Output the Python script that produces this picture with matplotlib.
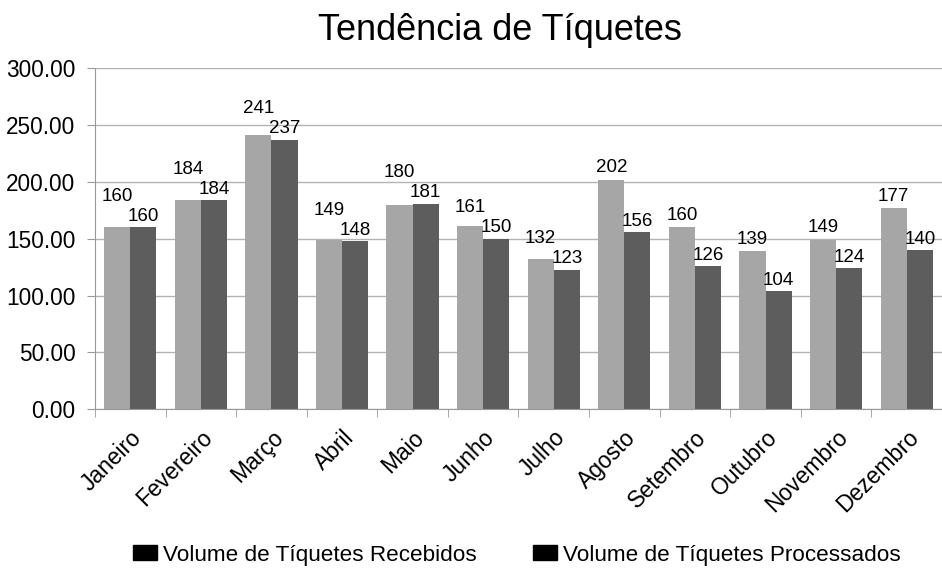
import numpy as np
import matplotlib.pyplot as plt
from matplotlib.patches import Patch
from matplotlib.ticker import FormatStrFormatter

plt.rcParams['font.family'] = ['Liberation Sans', 'DejaVu Sans']

meses = ['Janeiro', 'Fevereiro', 'Março', 'Abril', 'Maio', 'Junho', 'Julho',
         'Agosto', 'Setembro', 'Outubro', 'Novembro', 'Dezembro']
recebidos = [160, 184, 241, 149, 180, 161, 132, 202, 160, 139, 149, 177]
processados = [160, 184, 237, 148, 181, 150, 123, 156, 126, 104, 124, 140]

fig = plt.figure(figsize=(9.42, 5.7), dpi=100)
ax = fig.add_axes([0.1008, 0.2819, 0.8992, 0.5982])

x = np.arange(len(meses))
w = 0.37
b1 = ax.bar(x - w / 2, recebidos, w, color='#a6a6a6')
b2 = ax.bar(x + w / 2, processados, w, color='#5d5d5d')

# rótulos: o rótulo claro sobe quando colidiria com o escuro
for r1, r2 in zip(b1, b2):
    h1, h2 = r1.get_height(), r2.get_height()
    c1 = r1.get_x() + r1.get_width() / 2
    c2 = r2.get_x() + r2.get_width() / 2
    ax.annotate(f'{int(h2)}', (c2, h2), xytext=(0, 11), textcoords='offset pixels',
                ha='center', va='center', fontsize=13.5)
    if abs(h1 - h2) < 14:
        ax.annotate(f'{int(h1)}', (c1, h2), xytext=(0, 31),
                    textcoords='offset pixels', ha='center', va='center', fontsize=13.5)
    else:
        ax.annotate(f'{int(h1)}', (c1, h1), xytext=(0, 12), textcoords='offset pixels',
                    ha='center', va='center', fontsize=13.5)

ax.set_xlim(-0.5, len(meses) - 0.5)
ax.set_ylim(0, 300)
ax.set_yticks(np.arange(0, 301, 50))
ax.yaxis.set_major_formatter(FormatStrFormatter('%.2f'))
ax.yaxis.grid(True, color='#b3b3b3', linewidth=1)
ax.set_axisbelow(True)

ax.set_xticks(x)
ax.set_xticklabels(meses, rotation=45, ha='right', rotation_mode='anchor', fontsize=16.5)
ax.set_xticks(np.arange(-0.5, len(meses), 1), minor=True)
ax.tick_params(axis='x', which='major', length=0, pad=12)
ax.tick_params(axis='x', which='minor', length=6, color='#999999')
ax.tick_params(axis='y', length=6, color='#999999', labelsize=16.3, pad=8)

for s in ('top', 'right'):
    ax.spines[s].set_visible(False)
for s in ('left', 'bottom'):
    ax.spines[s].set_color('#999999')

fig.text(0.531, 0.947, 'Tendência de Tíquetes', fontsize=26, ha='center', va='center')

handles = [Patch(color='black'), Patch(color='black')]
fig.legend(handles, ['Volume de Tíquetes Recebidos', 'Volume de Tíquetes Processados'],
           loc='center', bbox_to_anchor=(0.549, 0.026), ncol=2, frameon=False,
           fontsize=16.2, handlelength=1.07, handleheight=0.67, columnspacing=2.5,
           handletextpad=0.27)

fig.savefig('out.png', dpi=100)
